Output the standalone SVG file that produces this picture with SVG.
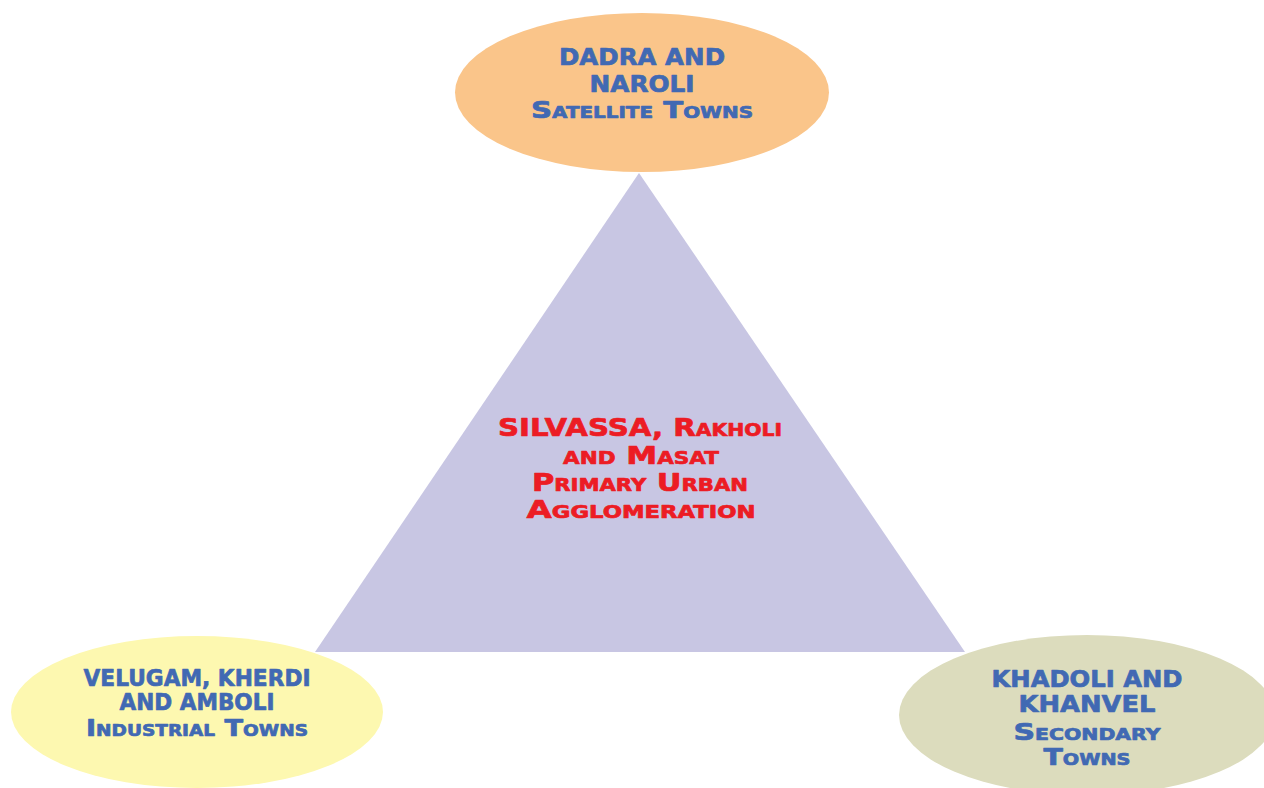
<svg xmlns="http://www.w3.org/2000/svg" width="1264" height="788" viewBox="0 0 1264 788">
<style>
text{font-family:"DejaVu Sans","Liberation Sans",sans-serif;font-weight:bold;text-anchor:middle;font-variant:small-caps;stroke-width:0.7;stroke-linejoin:round}
.b{fill:#4169B3;stroke:#4169B3;font-size:23.5px}
.r{fill:#EC1C24;stroke:#EC1C24;font-size:24.5px}
</style>
<rect width="1264" height="788" fill="#ffffff"/>
<g id="connectors"></g>
<g id="center">
<polygon points="639,173 315,652 965,652" fill="#C8C6E3"/>
<text class="r" x="640" y="436" textLength="284" lengthAdjust="spacingAndGlyphs">SILVASSA, Rakholi</text>
<text class="r" x="641" y="464" textLength="156" lengthAdjust="spacingAndGlyphs">and Masat</text>
<text class="r" x="640" y="491" textLength="216" lengthAdjust="spacingAndGlyphs">Primary Urban</text>
<text class="r" x="641" y="518" textLength="229" lengthAdjust="spacingAndGlyphs">Agglomeration</text>
</g>
<g id="top">
<ellipse cx="642" cy="92.5" rx="187" ry="79.5" fill="#FAC58A"/>
<text class="b" x="642" y="65" textLength="166" lengthAdjust="spacingAndGlyphs">DADRA AND</text>
<text class="b" x="642" y="92" textLength="105" lengthAdjust="spacingAndGlyphs">NAROLI</text>
<text class="b" x="642" y="118" textLength="222" lengthAdjust="spacingAndGlyphs">Satellite Towns</text>
</g>
<g id="left">
<ellipse cx="197" cy="712" rx="186" ry="76" fill="#FDF8B0"/>
<text class="b" x="197" y="686" textLength="227" lengthAdjust="spacingAndGlyphs">VELUGAM, KHERDI</text>
<text class="b" x="197" y="710" textLength="155" lengthAdjust="spacingAndGlyphs">AND AMBOLI</text>
<text class="b" x="197" y="736" textLength="222" lengthAdjust="spacingAndGlyphs">Industrial Towns</text>
</g>
<g id="right">
<ellipse cx="1087" cy="715" rx="188" ry="80" fill="#DCDCBD"/>
<text class="b" x="1087" y="687" textLength="191" lengthAdjust="spacingAndGlyphs">KHADOLI AND</text>
<text class="b" x="1087" y="712" textLength="137" lengthAdjust="spacingAndGlyphs">KHANVEL</text>
<text class="b" x="1087" y="740" textLength="147" lengthAdjust="spacingAndGlyphs">Secondary</text>
<text class="b" x="1087" y="765" textLength="87" lengthAdjust="spacingAndGlyphs">Towns</text>
</g>
</svg>
